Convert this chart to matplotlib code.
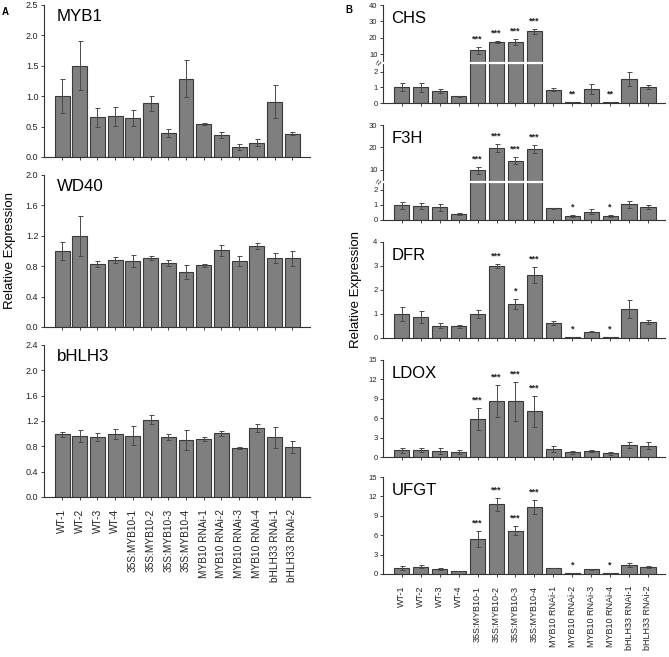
import numpy as np
import matplotlib
matplotlib.use("Agg")
import matplotlib.pyplot as plt
from matplotlib.transforms import blended_transform_factory

plt.rcParams['font.family'] = ['Liberation Sans', 'DejaVu Sans']

samples = ["WT-1", "WT-2", "WT-3", "WT-4",
           "35S:MYB10-1", "35S:MYB10-2", "35S:MYB10-3", "35S:MYB10-4",
           "MYB10 RNAi-1", "MYB10 RNAi-2", "MYB10 RNAi-3", "MYB10 RNAi-4",
           "bHLH33 RNAi-1", "bHLH33 RNAi-2"]

# Panel A
myb1 = [1.00, 1.50, 0.65, 0.67, 0.64, 0.88, 0.39, 1.29, 0.54, 0.36, 0.165, 0.235, 0.91, 0.38]
myb1_err = [0.28, 0.40, 0.16, 0.16, 0.13, 0.13, 0.065, 0.30, 0.015, 0.05, 0.045, 0.055, 0.27, 0.025]
wd40 = [1.00, 1.20, 0.83, 0.88, 0.87, 0.91, 0.84, 0.72, 0.81, 1.01, 0.87, 1.07, 0.91, 0.905]
wd40_err = [0.12, 0.26, 0.035, 0.04, 0.08, 0.03, 0.035, 0.09, 0.02, 0.07, 0.07, 0.04, 0.07, 0.10]
bhlh3 = [0.99, 0.965, 0.95, 0.99, 0.97, 1.22, 0.95, 0.90, 0.92, 1.01, 0.775, 1.09, 0.94, 0.79]
bhlh3_err = [0.04, 0.10, 0.06, 0.08, 0.15, 0.07, 0.05, 0.16, 0.03, 0.04, 0.01, 0.06, 0.16, 0.09]

# Panel B
chs = [1.00, 1.00, 0.75, 0.43, 12.4, 17.4, 17.4, 24.0, 0.85, 0.05, 0.89, 0.05, 1.53, 1.02]
chs_err = [0.25, 0.28, 0.14, 0.04, 2.0, 0.8, 2.0, 1.5, 0.10, 0.01, 0.32, 0.01, 0.47, 0.13]
chs_sig = ["", "", "", "", "***", "***", "***", "***", "", "**", "", "**", "", ""]
f3h = [0.98, 0.93, 0.85, 0.42, 9.8, 19.7, 14.0, 19.2, 0.78, 0.27, 0.56, 0.27, 1.04, 0.85]
f3h_err = [0.25, 0.20, 0.22, 0.07, 1.5, 1.8, 1.6, 1.7, 0.05, 0.04, 0.14, 0.05, 0.22, 0.13]
f3h_sig = ["", "", "", "", "***", "***", "***", "***", "", "*", "", "*", "", ""]
dfr = [0.99, 0.88, 0.52, 0.48, 0.99, 2.99, 1.42, 2.61, 0.62, 0.04, 0.26, 0.04, 1.21, 0.66]
dfr_err = [0.29, 0.25, 0.10, 0.05, 0.16, 0.08, 0.20, 0.33, 0.08, 0.0, 0.02, 0.0, 0.37, 0.09]
dfr_sig = ["", "", "", "", "", "***", "*", "***", "", "*", "", "*", "", ""]
ldox = [1.03, 1.03, 0.93, 0.78, 5.95, 8.64, 8.64, 7.09, 1.24, 0.72, 0.93, 0.57, 1.81, 1.76]
ldox_err = [0.40, 0.32, 0.40, 0.25, 1.7, 2.5, 3.0, 2.4, 0.50, 0.25, 0.20, 0.20, 0.47, 0.50]
ldox_sig = ["", "", "", "", "***", "***", "***", "***", "", "", "", "", "", ""]
ufgt = [0.97, 1.13, 0.82, 0.51, 5.38, 10.75, 6.70, 10.34, 0.92, 0.15, 0.72, 0.15, 1.43, 1.07]
ufgt_err = [0.30, 0.25, 0.15, 0.03, 1.2, 1.0, 0.7, 1.1, 0.05, 0.03, 0.12, 0.03, 0.30, 0.13]
ufgt_sig = ["", "", "", "", "***", "***", "***", "***", "", "*", "", "*", "", ""]

W, H = 669, 657
fig = plt.figure(figsize=(W / 100, H / 100), dpi=100)

BAR = "#7f7f7f"
EDGE = "#3a3a3a"
ERR = "#4a4a4a"


def make_ax(l, r, t, b):
    return fig.add_axes([l / W, 1 - b / H, (r - l) / W, (b - t) / H])


def style(ax, xlim, tick_fs):
    for s in ("top", "right"):
        ax.spines[s].set_visible(False)
    for s in ("left", "bottom"):
        ax.spines[s].set_linewidth(0.8)
        ax.spines[s].set_color("#333333")
    ax.set_xlim(*xlim)
    ax.set_xticks(range(len(samples)))
    ax.tick_params(axis="both", direction="out", length=2.5, width=0.6,
                   labelsize=tick_fs, colors="#222222", pad=1.5)
    ax.tick_params(axis="x", pad=6)


def bars(ax, vals, errs, width):
    x = np.arange(len(vals))
    ax.bar(x, vals, width=width, color=BAR, edgecolor=EDGE, linewidth=0.8, zorder=2)
    ax.errorbar(x, vals, yerr=errs, fmt="none", ecolor=ERR, elinewidth=0.7,
                capsize=1.8, capthick=0.7, zorder=3)


# ---------- Panel A ----------
A_l, A_r = 44, 310
panelA = [
    ("MYB1", myb1, myb1_err, 5, 157, 2.5, np.arange(0, 2.51, 0.5), "%.1f"),
    ("WD40", wd40, wd40_err, 175, 327, 2.0, np.arange(0, 2.01, 0.4), "%.1f"),
    ("bHLH3", bhlh3, bhlh3_err, 345, 497, 2.4, np.arange(0, 2.41, 0.4), "%.1f"),
]
for i, (name, v, e, t, b, ymax, yt, fmtstr) in enumerate(panelA):
    ax = make_ax(A_l, A_r, t, b)
    bars(ax, v, e, 0.84)
    style(ax, (-1.02, 14.0), 6.5)
    ax.set_ylim(0, ymax)
    ax.set_yticks(yt)
    ax.set_yticklabels([fmtstr % y for y in yt])
    ax.text(0.048, 0.975, name, transform=ax.transAxes, fontsize=12.2, va="top", ha="left")
    if i == 2:
        ax.set_xticklabels(samples, rotation=90, fontsize=7.3)
    else:
        ax.set_xticklabels([])
    if i == 1:
        ax.set_ylabel("Relative Expression", fontsize=9.5, labelpad=7)

fig.text(2 / W, 1 - 12 / H, "A", fontsize=7, fontweight="bold", ha="left", va="center")

# ---------- Panel B ----------
B_l, B_r = 383, 665


def broken_funcs(top_data, top_mapped):
    k = (top_mapped - 2.6) / (top_data - 5.0)
    xs = np.array([-100.0, 0.0, 2.5, 5.0, 1000.0])
    ys = np.array([-100.0, 0.0, 2.5, 2.6, 2.6 + 995.0 * k])

    def fwd(y):
        return np.interp(y, xs, ys)

    def inv(y):
        return np.interp(y, ys, xs)
    return fwd, inv


panelB = [
    ("CHS", chs, chs_err, chs_sig, 5, 103, 40, [0, 1, 2, 10, 20, 30, 40], (40, 6.28)),
    ("F3H", f3h, f3h_err, f3h_sig, 125, 220, 30, [0, 1, 2, 10, 20, 30], (30, 6.33)),
    ("DFR", dfr, dfr_err, dfr_sig, 242, 338, 4, [0, 1, 2, 3, 4], None),
    ("LDOX", ldox, ldox_err, ldox_sig, 360, 457, 15, [0, 3, 6, 9, 12, 15], None),
    ("UFGT", ufgt, ufgt_err, ufgt_sig, 477, 574, 15, [0, 3, 6, 9, 12, 15], None),
]
for i, (name, v, e, sig, t, b, ymax, yt, brk) in enumerate(panelB):
    ax = make_ax(B_l, B_r, t, b)
    if brk is not None:
        fwd, inv = broken_funcs(*brk)
        ax.set_yscale("function", functions=(fwd, inv))
    bars(ax, v, e, 0.8)
    style(ax, (-1.0, 13.9), 5.5)
    ax.set_ylim(0, ymax)
    ax.set_yticks(yt)
    ax.set_yticklabels([str(y) for y in yt])
    ax.yaxis.set_minor_locator(matplotlib.ticker.NullLocator())
    if brk is not None:
        ax.axhline(3.75, color="white", linewidth=1.6, zorder=4)
        tr = blended_transform_factory(ax.transAxes, ax.transData)
        ax.text(-0.012, 3.75, "\u2248", transform=tr, fontsize=7, rotation=60,
                ha="center", va="center", color="#333333", zorder=5, clip_on=False)
    ax.text(0.03, 0.935, name, transform=ax.transAxes, fontsize=12, va="top", ha="left")
    for xi, (val, err, s) in enumerate(zip(v, e, sig)):
        if s:
            ax.annotate(s, (xi, val + err), xytext=(0, 2.5), textcoords="offset points",
                        ha="center", va="bottom", fontsize=6.5, color="#222222",
                        fontweight="bold")
    if i == len(panelB) - 1:
        ax.set_xticklabels(samples, rotation=90, fontsize=6.5)
    else:
        ax.set_xticklabels([])
    if i == 2:
        ax.set_ylabel("Relative Expression", fontsize=9.5, labelpad=8)

fig.text(345 / W, 1 - 10 / H, "B", fontsize=7, fontweight="bold", ha="left", va="center")

fig.savefig("out.png", dpi=100)
